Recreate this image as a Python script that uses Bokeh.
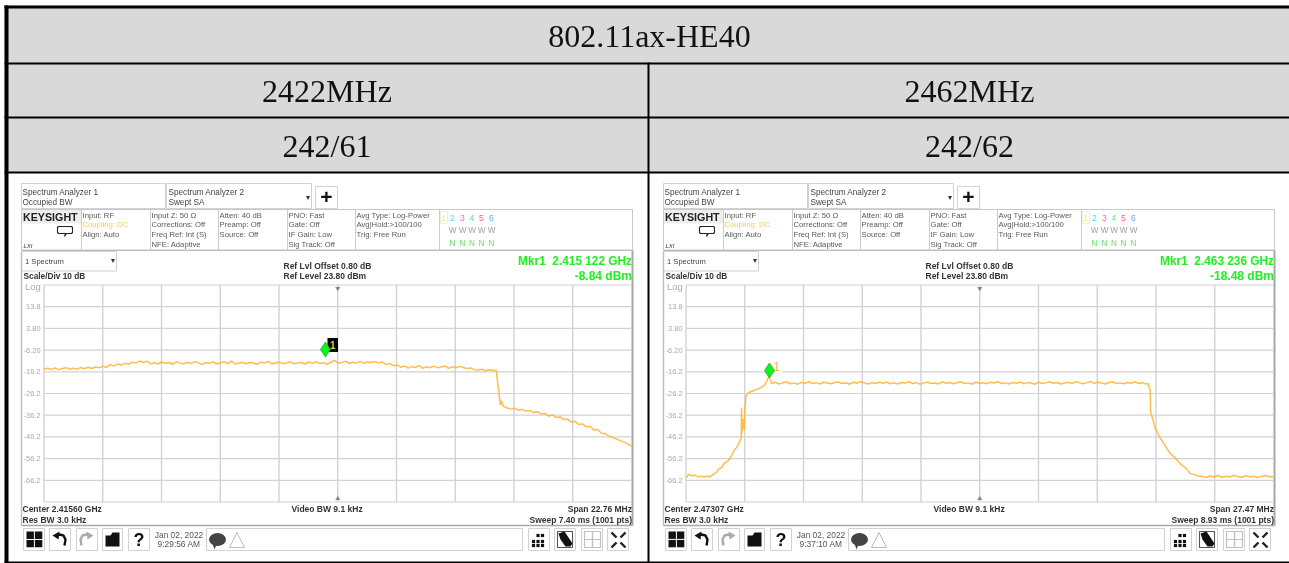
from bokeh.plotting import figure
from bokeh.models import Range1d
from bokeh.core.properties import value
from bokeh.embed import file_html
from bokeh.resources import INLINE
import numpy as np

# ---------- data ----------
title = "802.11ax-HE40"
channels = ["2422MHz", "2462MHz"]
ru_labels = ["242/61", "242/62"]
centers_ghz = [2.41560, 2.47307]
spans_ghz = [0.02276, 0.02747]
marker_ghz = [2.415122, 2.463236]
marker_dbm = [-8.84, -18.48]
marker_texts = ["Mkr1\u00a0 2.415 122 GHz", "Mkr1\u00a0 2.463 236 GHz"]
marker_level_texts = ["-8.84 dBm", "-18.48 dBm"]
center_texts = ["Center 2.41560 GHz", "Center 2.47307 GHz"]
span_texts = ["Span 22.76 MHz", "Span 27.47 MHz"]
sweep_texts = ["Sweep 7.40 ms (1001 pts)", "Sweep 8.93 ms (1001 pts)"]
date_texts = ["9:29:56 AM", "9:37:10 AM"]
db_ticks = [13.8, 3.8, -6.2, -16.2, -26.2, -36.2, -46.2, -56.2, -66.2]
db_tick_labels = ["13.8", "3.80", "-6.20", "-16.2", "-26.2", "-36.2", "-46.2", "-56.2", "-66.2"]
ref_level = 23.8

# left trace: sweep position in divisions (0..10) and level in dBm
left_plateau_db = [
    -15.0,-14.6,-15.1,-14.4,-15.2,-14.7,-14.3,-15.0,-14.5,-15.1,-14.2,-14.8,-14.1,-14.7,-13.9,-14.4,
    -13.6,-14.2,-12.9,-13.5,-12.6,-13.1,-12.3,-12.7,-11.8,-12.2,-11.2,-11.9,-11.3,-12.5,
    -12.0,-12.6,-11.7,-12.3,-11.9,-12.7,-11.6,-12.2,-12.5,-11.8,-12.4,-11.5,-12.1,-12.8,-11.9,-12.3,
    -11.7,-12.6,-12.0,-11.6,-12.4,-11.2,-12.7,-12.1,-11.8,-12.5,-11.9,-12.3,-12.7,-11.7,-12.2,-11.4,
    -12.6,-12.0,-11.8,-12.4,-12.1,-11.6,-12.5,-12.2,-11.9,-12.6,-11.7,-12.3,-11.5,-12.4,-12.0,-12.7,
    -11.8,-10.9,-12.2,-11.9,-11.3,-12.4,-11.8,-12.1,-11.4,-12.3,-11.7,-11.9,
    -11.5,-12.2,-11.6,-12.8,-12.4,-13.4,-13.0,
    -14.1,-13.5,-14.5,-13.8,-14.2,-13.3,-14.6,-13.9,-14.3,-13.6,-14.4,-14.0,-13.5,-14.6,-13.9,-14.3,-13.7,
    -14.2,-14.7,-14.4,-15.2,-15.4,-15.0,-15.7,-15.3,-15.6,-15.5]
left_drop_div = [7.72, 7.74, 7.75, 7.77, 7.79, 7.80]
left_drop_db = [-21.0, -25.0, -27.8, -31.5, -29.5, -31.0]
left_tail_db = [
    -32.0,-32.9,-33.4,-33.0,-33.9,-33.5,-34.3,-34.0,-35.0,-34.6,-35.6,-35.4,-36.6,-36.1,-37.2,-37.0,-38.2,-38.0,
    -39.4,-39.0,-40.5,-40.2,-41.6,-41.3,-43.0,-42.8,-44.5,-44.6,-45.9,-46.3,-47.2,-47.9,-48.6,-49.4,-50.6]

# right trace
right_rise_div = [0,.05,.10,.15,.20,.26,.31,.36,.41,.46,.51,.56,.61,.66,.71,.77,.82,.87,.92,.94,.945,.95,.97,.99,1.00,1.02,1.05,1.10,1.15,1.21,1.26,1.31,1.36,1.41]
right_rise_db = [-65.0,-63.4,-64.2,-63.8,-64.6,-64.3,-64.7,-64.2,-64.6,-63.5,-62.8,-60.9,-60.2,-58.1,-57.4,-55.2,-52.4,-50.8,-48.0,-46.4,-32.8,-45.0,-38.0,-43.0,-34.9,-27.3,-26.2,-25.4,-24.8,-24.3,-23.6,-23.0,-21.3,-18.5]
right_plateau_db = [
    -21.6,-21.0,-21.8,-21.2,-20.9,-21.7,-21.3,-21.9,-21.1,-21.5,-20.8,-21.6,-21.2,-21.8,-21.0,-21.4,-21.7,-21.1,-20.9,-21.6,
    -21.3,-21.9,-21.0,-21.5,-20.7,-21.4,-21.8,-21.2,-21.6,-21.0,-21.5,-20.9,-21.7,-21.3,-21.8,-21.1,-21.4,-20.8,-21.6,-21.2,
    -21.9,-21.3,-21.0,-21.6,-21.4,-21.8,-20.9,-21.5,-21.1,-21.7,-21.2,-20.8,-21.6,-21.3,-21.9,-21.0,-21.5,-21.2,-21.7,-21.0,
    -21.4,-20.7,-21.6,-21.3,-21.8,-21.1,-21.5,-20.9,-21.7,-21.2,-21.4,-21.9,-21.0,-21.6,-21.3,-20.8,-21.5,-21.1,-21.8,-21.4,
    -21.0,-21.6,-20.7,-21.3,-21.7,-21.2,-20.6,-21.5,-21.0,-21.4,-21.8,-21.1,-20.9,-21.6,-21.3,-21.7,-21.1,-21.5,-20.8,-21.6,-21.2,-21.9]
right_plateau_start_div = 1.46
right_plateau_end_div = 7.83
right_fall_div = [7.86,7.90,7.91,7.95,7.98,8.03,8.07,8.12,8.17,8.24,8.31,8.37,8.44,8.51,8.58,8.65,8.71,8.78]
right_fall_db = [-21.5,-24.5,-34.9,-38.5,-41.8,-44.5,-46.8,-48.6,-50.9,-53.8,-55.4,-57.2,-59.2,-60.6,-63.0,-63.6,-64.2,-64.4]
right_floor_db = [-64.9,-64.2,-64.7,-64.0,-64.8,-64.3,-64.6,-63.9,-64.5,-64.8,-64.1,-64.6,-64.3,-64.9,-64.4,-64.0,-64.7,-64.5]

left_div = np.concatenate([np.linspace(0, 7.70, len(left_plateau_db)), left_drop_div, np.linspace(7.82, 10, len(left_tail_db))])
left_db = left_plateau_db + left_drop_db + left_tail_db
right_div = np.concatenate([right_rise_div, np.linspace(right_plateau_start_div, right_plateau_end_div, len(right_plateau_db)),
                            right_fall_div, np.linspace(8.85, 10, len(right_floor_db))])
right_db = right_rise_db + right_plateau_db + right_fall_db + right_floor_db
trace_div = [left_div, right_div]
trace_db = [left_db, right_db]

# ---------- layout of the page ----------
W, H = 1289, 563
PANEL_DX = 642
GRID_L, GRID_R = 43.5, 631.0
Y_REF, PX_PER_DB = 284.5, 2.17

p = figure(width=W, height=H, x_range=Range1d(0, W), y_range=Range1d(H, 0),
           x_axis_type=None, y_axis_type=None, toolbar_location=None,
           output_backend="svg", min_border=0, outline_line_color=None)
p.grid.visible = False
p.background_fill_color = "white"
p.border_fill_color = "white"
p.styles = {"position": "fixed", "left": "0px", "top": "0px"}

def db_at(py):
    return ref_level - (py - Y_REF) / PX_PER_DB
p.extra_y_ranges["db"] = Range1d(db_at(H), db_at(0))
for i in range(2):
    dx = PANEL_DX * i
    per = spans_ghz[i] / (GRID_R - GRID_L)
    mid = (GRID_L + GRID_R) / 2 + dx
    p.extra_x_ranges[f"f{i}"] = Range1d(centers_ghz[i] + (0 - mid) * per, centers_ghz[i] + (W - mid) * per)

SANS = value("Liberation Sans")

def T(x, y, s, size=8.5, color="#444444", bold=False, align="left", font=SANS, italic=False, **kw):
    style = "bold" if bold else ("italic" if italic else "normal")
    p.text([x], [y], text=[s], text_font=font, text_font_size=f"{size}px", text_color=color,
           text_font_style=style, text_align=align, text_baseline="middle", **kw)

def box(l, t, r, b, fill=None, line="#d2d2d2", lw=1.0):
    p.quad(left=[l], right=[r], top=[t], bottom=[b], fill_color=fill, line_color=line, line_width=lw)

# header table
box(4, 5, W, 172, fill="#d9d9d9", line=None)
for t, b in ((5, 8), (62, 64), (116, 118), (171, 173), (561, 563)):
    p.quad(left=[4], right=[W], top=[t], bottom=[b], fill_color="black", line_color=None)
p.quad(left=[4], right=[8], top=[5], bottom=[H], fill_color="black", line_color=None)
p.quad(left=[647], right=[649], top=[62], bottom=[H], fill_color="black", line_color=None)
SERIF = value("Liberation Serif")
T(649, 35.5, title, 32, "#111111", font=SERIF, align="center")
for i in range(2):
    cx = 326.5 + 642.5 * i
    T(cx, 90.5, channels[i], 32, "#111111", font=SERIF, align="center")
    T(cx, 145.5, ru_labels[i], 32, "#111111", font=SERIF, align="center")

settings_cols = [
    (82, ["Input: RF", "Coupling: DC", "Align: Auto"]),
    (151, ["Input Z: 50 Ω", "Corrections: Off", "Freq Ref: Int (S)", "NFE: Adaptive"]),
    (219, ["Atten: 40 dB", "Preamp: Off", "Source: Off"]),
    (288, ["PNO: Fast", "Gate: Off", "IF Gain: Low", "Sig Track: Off"]),
    (356, ["Avg Type: Log-Power", "Avg|Hold:>100/100", "Trig: Free Run"]),
]
trace_nums = ["1", "2", "3", "4", "5", "6"]
trace_num_colors = ["#f5e96a", "#4fdcf0", "#f06adc", "#60e6a0", "#f2668c", "#6aa0f5"]
trace_xs = [443, 452, 462, 471.5, 481, 491]

for i in range(2):
    d = PANEL_DX * i
    fr = f"f{i}"
    # tabs
    box(21 + d, 183, 165 + d, 208)
    box(166 + d, 183, 311 + d, 208)
    box(315 + d, 186, 337 + d, 208)
    T(22 + d, 192, "Spectrum Analyzer 1", 8.2)
    T(22 + d, 201.5, "Occupied BW", 8.2)
    T(168 + d, 192, "Spectrum Analyzer 2", 8.2)
    T(168 + d, 201.5, "Swept SA", 8.2)
    T(307 + d, 197, "▾", 8, "#333333", align="center")
    T(326 + d, 196.5, "+", 21, "#111111", bold=True, align="center")
    # settings band
    box(21 + d, 209, 632 + d, 249.5, line="#c8c8c8")
    box(21.5 + d, 209.5, 81 + d, 223, fill="#eeeeee", line=None)
    for xv in (81, 150, 218, 287, 355, 439):
        p.segment([xv + d], [209], [xv + d], [249.5], line_color="#cccccc", line_width=1)
    T(22.5 + d, 216.5, "KEYSIGHT", 10.7, "#222222", bold=True)
    T(23 + d, 245, "LXI", 6, "#333333", italic=True)
    p.patch(np.array([58, 71, 72, 72, 71, 66, 64, 65, 58, 57, 57]) + d, [226, 226, 227, 232, 233, 233, 236, 233, 233, 232, 227],
            fill_color="white", line_color="#222222", line_width=1.1)
    for cx, lines in settings_cols:
        for k, s in enumerate(lines):
            col = "#f7c95a" if s.startswith("Coupling") else "#5a5a5a"
            T(cx + d, 214.5 + k * 9.7, s, 7.7, col)
    for n, xv, col in zip(trace_nums, trace_xs, trace_num_colors):
        T(xv + d, 217, n, 8.6, col, align="center")
    box(440 + d, 211, 447 + d, 223, fill=None, line="#eeeeee")
    for xv in trace_xs[1:]:
        T(xv + d, 229.5, "W", 8.2, "#a0a0a0", align="center")
        T(xv + d, 243, "N", 8.2, "#6bdc6b", align="center")
    # readouts
    box(21 + d, 251, 116 + d, 270.5)
    T(24.5 + d, 261, "1 Spectrum", 7.6)
    T(112 + d, 260, "▾", 8, "#333333", align="center")
    T(23 + d, 275.5, "Scale/Div 10 dB", 8.3, "#333333", bold=True)
    T(24.5 + d, 285.5, "Log", 9.5, "#aaaaaa")
    T(283 + d, 265, "Ref Lvl Offset 0.80 dB", 8.5, "#333333", bold=True)
    T(283 + d, 275.5, "Ref Level 23.80 dBm", 8.5, "#333333", bold=True)
    T(631.5 + d, 260, marker_texts[i], 11.85, "#22ee22", bold=True, align="right")
    T(631.5 + d, 275, marker_level_texts[i], 12.0, "#22ee22", bold=True, align="right")
    # plot frame
    p.segment([21 + d], [250], [632 + d], [250], line_color="#bcbcbc", line_width=1.2)
    p.segment([21 + d], [251], [21 + d], [525], line_color="#bcbcbc", line_width=1.4)
    p.segment([632 + d], [250], [632 + d], [525], line_color="#a8a8a8", line_width=2)
    p.segment([21 + d], [525], [632 + d], [525], line_color="#a8a8a8", line_width=1.5)
    # grid through the trace's own scales
    f0, span = centers_ghz[i], spans_ghz[i]
    vf = [f0 + span * (k - 5) / 10 for k in range(10)]
    p.segment(vf, [ref_level] * 10, vf, [ref_level - 100] * 10, x_range_name=fr, y_range_name="db",
              line_color="#d0d0d0", line_width=1.3)
    f_left, f_right = vf[0], f0 + span / 2
    hd = [ref_level] + db_ticks + [ref_level - 100]
    p.segment([f_left] * len(hd), hd, [f_right] * len(hd), hd, x_range_name=fr, y_range_name="db",
              line_color="#d2d2d2", line_width=1.2)
    for tv, tl in zip(db_ticks, db_tick_labels):
        p.text([40 + d], [tv], text=[tl], y_range_name="db", text_font=SANS, text_font_size="7.4px",
               text_color="#a8a8a8", text_align="right", text_baseline="middle")
    p.scatter([f0], [ref_level - 1.6], x_range_name=fr, y_range_name="db", marker="inverted_triangle", size=5,
              fill_color="#888888", line_color=None)
    p.scatter([f0], [ref_level - 98.4], x_range_name=fr, y_range_name="db", marker="triangle", size=5,
              fill_color="#888888", line_color=None)
    # trace
    fx = [f0 + span * (v - 5) / 10 for v in trace_div[i]]
    p.line(fx, trace_db[i], x_range_name=fr, y_range_name="db", line_color="#ffb030", line_width=1.5, line_alpha=0.85)
    # marker
    if i == 0:
        box(327, 337.5, 337.5, 351.5, fill="black", line=None)
        T(332.3, 344.5, "1", 10, "#d8d83a", bold=True, align="center")
    else:
        box(774, 366, 782, 376, fill="white", line=None)
        T(776, 365.5, "1", 13, "#ffb443", align="center")
    p.scatter([marker_ghz[i]], [marker_dbm[i] + 2.9], x_range_name=fr, y_range_name="db", marker="diamond", size=15,
              fill_color="#11ee22", line_color="#0a9a18", line_width=0.6)
    # footer text
    T(22 + d, 508, center_texts[i], 8.5, "#333333", bold=True)
    T(22 + d, 519, "Res BW 3.0 kHz", 8.5, "#333333", bold=True)
    T(291 + d, 508, "Video BW 9.1 kHz", 8.5, "#333333", bold=True)
    T(631.5 + d, 508, span_texts[i], 8.5, "#333333", bold=True, align="right")
    T(631.5 + d, 519, sweep_texts[i], 8.5, "#333333", bold=True, align="right")
    # toolbar
    for l, r in ((23, 44), (49, 70), (76, 97), (102, 122), (128, 149), (528, 549), (554, 575), (581, 602), (607, 628)):
        box(l + d, 528, r + d, 550)
    box(206 + d, 528, 522 + d, 550)
    # windows
    for l, t in ((26, 531), (34.4, 531), (26, 539.4), (34.4, 539.4)):
        box(l + d, t, l + 7.4 + d, t + 7.4, fill="#111111", line=None)
    # undo / redo
    p.line(np.array([55, 59, 63, 65, 64]) + d, [535, 534, 535, 539, 545], line_color="#111111", line_width=2.4)
    p.patch(np.array([52, 59, 58]) + d, [535, 531, 539], fill_color="#111111", line_color=None)
    p.line(np.array([90, 86, 82, 80, 81]) + d, [535, 534, 535, 539, 545], line_color="#aaaaaa", line_width=2.4)
    p.patch(np.array([93, 86, 87]) + d, [535, 531, 539], fill_color="#aaaaaa", line_color=None)
    # folder
    p.patch(np.array([105, 110, 112, 119, 119, 105]) + d, [535, 535, 532, 532, 546, 546], fill_color="#111111", line_color=None)
    T(138.5 + d, 539, "?", 18, "#111111", bold=True, align="center")
    T(178.5 + d, 534, "Jan 02, 2022", 8.4, "#555555", align="center")
    T(178.5 + d, 543.5, date_texts[i], 8.4, "#555555", align="center")
    p.ellipse([217 + d], [539], width=17, height=13, fill_color="#444444", line_color=None)
    p.patch(np.array([212, 216, 214]) + d, [543, 544, 549], fill_color="#444444", line_color=None)
    p.patch(np.array([229, 236.5, 244]) + d, [547, 532, 547], fill_color="white", line_color="#bbbbbb", line_width=1)
    # dots
    for xv, yv in ((533, 541), (537.5, 541), (542, 541), (537.5, 535), (542, 535), (533, 545), (537.5, 545), (542, 545)):
        box(xv - 1.6 + d, yv - 1.6, xv + 1.6 + d, yv + 1.6, fill="#111111", line=None)
    # hand
    box(557 + d, 531, 572 + d, 547, fill=None, line="#555555", lw=1.1)
    p.patch(np.array([558, 564, 572, 570, 565, 560]) + d, [533, 531, 543, 546, 546, 539], fill_color="#111111", line_color=None)
    # tiles
    for l, t in ((584, 531), (592, 531), (584, 539), (592, 539)):
        box(l + d, t, l + 8 + d, t + 8, fill=None, line="#c0c0c0", lw=1.2)
    # corners
    for (ax, ay, bx, by) in ((611, 532, 616, 537), (625, 532, 620, 537), (611, 547, 616, 542), (625, 547, 620, 542)):
        p.segment([ax + d], [ay], [bx + d], [by], line_color="#222222", line_width=2.4)

open("out.html", "w").write(file_html(p, INLINE))
